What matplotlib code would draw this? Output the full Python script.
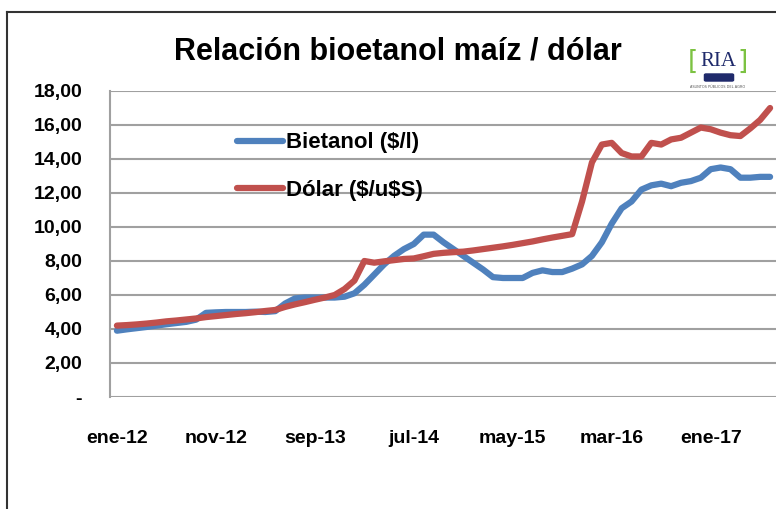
import numpy as np
import matplotlib
matplotlib.use("Agg")
import matplotlib.pyplot as plt
from matplotlib.patches import FancyBboxPatch

# --- datos (mensuales, ene-12 a jul-17) ---
bioetanol = [3.90, 3.98, 4.05, 4.12, 4.20, 4.28, 4.35, 4.42, 4.55, 4.95,
             4.98, 5.00, 5.00, 5.00, 5.02, 5.00, 5.05, 5.50, 5.80, 5.85,
             5.85, 5.85, 5.85, 5.90, 6.10, 6.60, 7.20, 7.80, 8.30, 8.70,
             9.00, 9.55, 9.55, 9.10, 8.70, 8.30, 7.90, 7.50, 7.05, 7.00,
             7.00, 7.00, 7.30, 7.45, 7.35, 7.35, 7.55, 7.80, 8.30, 9.10,
             10.20, 11.10, 11.50, 12.20, 12.45, 12.55, 12.40, 12.60, 12.70, 12.90,
             13.40, 13.50, 13.40, 12.90, 12.90, 12.95, 12.95]
dolar = [4.20, 4.23, 4.27, 4.32, 4.38, 4.45, 4.50, 4.56, 4.62, 4.70,
         4.76, 4.82, 4.88, 4.93, 4.99, 5.06, 5.12, 5.30, 5.45, 5.58,
         5.72, 5.85, 6.00, 6.35, 6.85, 8.00, 7.90, 7.98, 8.05, 8.12,
         8.15, 8.28, 8.42, 8.48, 8.52, 8.55, 8.62, 8.70, 8.78, 8.86,
         8.95, 9.05, 9.15, 9.27, 9.38, 9.48, 9.58, 11.50, 13.80, 14.85,
         14.95, 14.35, 14.15, 14.15, 14.95, 14.85, 15.15, 15.25, 15.55, 15.85,
         15.75, 15.55, 15.40, 15.35, 15.80, 16.30, 17.00]
tick_pos = [0, 10, 20, 30, 40, 50, 60]
tick_labels = ["ene-12", "nov-12", "sep-13", "jul-14", "may-15", "mar-16", "ene-17"]
y_ticks = list(range(0, 19, 2))

azul = "#4F81BD"
rojo = "#C0504D"
bold_font = ["Liberation Sans", "DejaVu Sans"]

fig = plt.figure(figsize=(7.76, 5.09), dpi=100)
ax = fig.add_axes([110 / 776, 112 / 509, 667 / 776, 306 / 509])

x = np.arange(len(dolar))
ax.plot(x, bioetanol, color=azul, lw=4.5, solid_capstyle="round",
        solid_joinstyle="round", label=r"Bietanol (\$/l)")
ax.plot(x, dolar, color=rojo, lw=4.5, solid_capstyle="round",
        solid_joinstyle="round", label=r"Dólar (\$/u\$S)")

ax.set_xlim(-0.7, 66.7)
ax.set_ylim(0, 18)
ax.set_yticks(y_ticks)
ax.set_yticklabels(["-" if v == 0 else f"{v:.2f}".replace(".", ",") for v in y_ticks])
ax.set_xticks(tick_pos)
ax.set_xticklabels(tick_labels)
ax.tick_params(length=0)
ax.tick_params(axis="y", pad=20)
ax.tick_params(axis="x", pad=24)
for lab in ax.get_yticklabels() + ax.get_xticklabels():
    lab.set_fontfamily(bold_font)
    lab.set_fontweight("bold")
    lab.set_fontsize(14)

ax.grid(axis="y", color="#a0a0a0", lw=1.5)
ax.set_axisbelow(True)
for s in ["top", "right", "bottom"]:
    ax.spines[s].set_visible(False)
ax.spines["left"].set_color("#a0a0a0")
ax.spines["left"].set_linewidth(1.5)

leg = ax.legend(loc="upper left", bbox_to_anchor=(0.16, 0.93), frameon=False,
                handlelength=2.1, handletextpad=0.12, labelspacing=1.2,
                prop={"family": bold_font, "weight": "bold", "size": 16})

fig.text(398 / 776, 1 - 51 / 509, "Relación bioetanol maíz / dólar", ha="center",
         va="center", fontsize=22, fontweight="bold", family=bold_font)

# logo RIA
fig.text(718 / 776, 1 - 61 / 509, "RIA", ha="center", va="center", fontsize=15,
         family="Liberation Serif", color="#1f2a6b")
fig.text(693 / 776, 1 - 62 / 509, "[", ha="center", va="center", fontsize=19,
         color="#7cc242", family="DejaVu Sans")
fig.text(743 / 776, 1 - 62 / 509, "]", ha="center", va="center", fontsize=19,
         color="#7cc242", family="DejaVu Sans")
fig.patches.append(FancyBboxPatch((706 / 776, 1 - 80 / 509), 26 / 776, 5 / 509,
                                  boxstyle="round,pad=0.002", transform=fig.transFigure,
                                  color="#1f2a6b"))
fig.text(718 / 776, 1 - 87 / 509, "ASUNTOS PÚBLICOS DEL AGRO", ha="center",
         va="center", fontsize=2.5, color="#555555")

# marco exterior
fig.add_artist(plt.Line2D([7 / 776, 1], [1 - 12 / 509, 1 - 12 / 509],
                          transform=fig.transFigure, color="#333333", lw=1.5))
fig.add_artist(plt.Line2D([7 / 776, 7 / 776], [0, 1 - 12 / 509],
                          transform=fig.transFigure, color="#333333", lw=1.5))

fig.savefig("out.png", dpi=100)
